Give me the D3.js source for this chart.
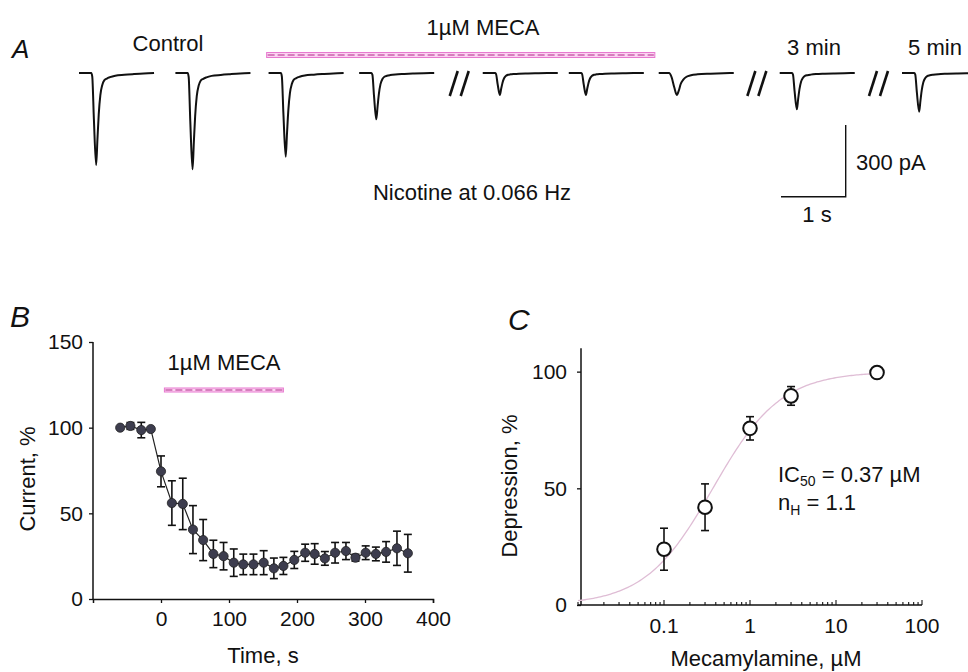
<!DOCTYPE html>
<html>
<head>
<meta charset="utf-8">
<script src="https://cdn.jsdelivr.net/npm/d3@7"></script>
<style>
  html, body { margin: 0; padding: 0; background: #fff; }
  svg { display: block; }
  text { font-family: "Liberation Sans", Arial, sans-serif; fill: #111; }
</style>
</head>
<body>
<svg id="chart" width="968" height="672"></svg>
<script>
// ---------------- DATA ----------------
// Panel A: sample current traces (montage time in s, amplitude in pA)
const traceStart = [0, 1.49, 2.93, 4.33, 6.24, 7.57, 8.96, 10.83, 12.72];
const traceAmp   = [385, 403, 350, 194, 92, 92, 92, 152, 162];
const traceKind  = ["fast", "fast", "fast", "fast", "fast", "fast", "slow", "fast", "fast"];
// normalised response templates (time from trace start in s, fraction of peak)
const fastShapeT = [0, 0.19, 0.205, 0.23, 0.265, 0.285, 0.305, 0.33, 0.36, 0.39, 0.43, 0.48, 0.56, 0.7, 0.85, 1.0, 1.16];
const fastShapeV = [0, 0, 0.04, 0.5, 1.0, 0.72, 0.45, 0.24, 0.13, 0.08, 0.06, 0.045, 0.03, 0.02, 0.012, 0.005, 0];
const slowShapeT = [0, 0.16, 0.2, 0.24, 0.28, 0.31, 0.34, 0.38, 0.43, 0.5, 0.6, 0.8, 1.0, 1.16];
const slowShapeV = [0, 0, 0.2, 0.65, 1.0, 0.8, 0.5, 0.3, 0.17, 0.1, 0.06, 0.03, 0.01, 0];
const breakTimes = [5.73, 10.33, 12.21];
const mecaA = [2.90, 8.90];
const scaleBarTime = 1;     // s
const scaleBarAmp = 300;    // pA

// Panel B: time course
const timeB = [-60, -45, -29, -15, 0, 16, 32, 47, 62, 77, 92, 107, 121, 136, 151, 166, 180, 196, 212, 226, 241, 256, 272, 286, 301, 316, 331, 347, 363];
const currentB = [100, 101, 98.6, 99.2, 74.5, 56, 55.5, 40.5, 34.4, 26.3, 25, 21.2, 20.2, 20.2, 21.2, 17.9, 19.3, 22.8, 27, 26.3, 23.7, 27, 28, 24.1, 27, 26.3, 27.5, 29.6, 26.7];
const errB = [0, 2, 4.5, 0, 9, 13, 15, 14, 12, 8, 8, 8, 6, 6, 7, 6, 5, 5, 5, 6, 4, 6, 5, 2, 4, 4, 6, 10, 11];
const mecaB = [5, 180];
const xTicksB = [0, 100, 200, 300, 400];
const yTicksB = [0, 50, 100, 150];

// Panel C: concentration-response
const concC = [0.1, 0.3, 1, 3, 30];
const depressionC = [23.9, 41.9, 75.7, 89.6, 99.6];
const errC = [9, 10, 5, 4, 0];
const IC50 = 0.37, nH = 1.1;
const xTicksC = [0.1, 1, 10, 100];
const xTickLabelsC = ["0.1", "1", "10", "100"];
const yTicksC = [0, 50, 100];

// ---------------- DRAW ----------------
const svg = d3.select("#chart");
const FS = 22;

// ===== Panel A =====
const gA = svg.append("g");
const xA = d3.scaleLinear().domain([0, 1]).range([79, 143.7]);
const yA = d3.scaleLinear().domain([0, 300]).range([73, 144.7]);

gA.append("text").attr("x", 12).attr("y", 58).attr("font-size", 26)
  .attr("font-style", "italic").text("A");
gA.append("text").attr("x", 168).attr("y", 51).attr("font-size", FS)
  .attr("text-anchor", "middle").text("Control");
gA.append("text").attr("x", 483).attr("y", 35).attr("font-size", FS)
  .attr("text-anchor", "middle").text("1\u00B5M MECA");
gA.append("text").attr("x", 814).attr("y", 55).attr("font-size", FS)
  .attr("text-anchor", "middle").text("3 min");
gA.append("text").attr("x", 935).attr("y", 55).attr("font-size", FS)
  .attr("text-anchor", "middle").text("5 min");
gA.append("text").attr("x", 472).attr("y", 200).attr("font-size", FS)
  .attr("text-anchor", "middle").text("Nicotine at 0.066 Hz");

// hatched drug bar helper
function drugBar(g, x0, x1, yc, h) {
  g.append("rect").attr("x", x0).attr("y", yc - h / 2).attr("width", x1 - x0).attr("height", h)
    .attr("fill", "#fbd3f1").attr("stroke", "#e879d0").attr("stroke-width", 1);
  g.append("line").attr("x1", x0 + 1).attr("x2", x1 - 1).attr("y1", yc).attr("y2", yc)
    .attr("stroke", "#b02a8a").attr("stroke-width", 1).attr("stroke-dasharray", "7,3");
}
drugBar(gA, xA(mecaA[0]), xA(mecaA[1]), 55, 5);

const lineA = d3.line().x(d => d[0]).y(d => d[1]).curve(d3.curveMonotoneX);
traceStart.forEach((t0, i) => {
  const T = traceKind[i] === "slow" ? slowShapeT : fastShapeT;
  const V = traceKind[i] === "slow" ? slowShapeV : fastShapeV;
  const pts = T.map((t, k) => [xA(t0 + t), yA(V[k] * traceAmp[i])]);
  gA.append("path").attr("d", lineA(pts)).attr("fill", "none")
    .attr("stroke", "#111").attr("stroke-width", 2);
});

breakTimes.forEach(bt => {
  [0, 11].forEach(off => {
    gA.append("line")
      .attr("x1", xA(bt) + off).attr("y1", 96)
      .attr("x2", xA(bt) + off + 8).attr("y2", 71)
      .attr("stroke", "#111").attr("stroke-width", 2.6);
  });
});

// scale bar
const sbX = 845.7, sbY = 196.7;
const sbW = xA(scaleBarTime) - xA(0), sbH = yA(scaleBarAmp) - yA(0);
gA.append("path").attr("d", `M${sbX - sbW},${sbY}H${sbX}V${sbY - sbH}`)
  .attr("fill", "none").attr("stroke", "#111").attr("stroke-width", 1.4);
gA.append("text").attr("x", 856).attr("y", 170).attr("font-size", FS).text("300 pA");
gA.append("text").attr("x", 817).attr("y", 222).attr("font-size", FS)
  .attr("text-anchor", "middle").text("1 s");

// ===== Panel B =====
const gB = svg.append("g");
const xB = d3.scaleLinear().domain([-100, 400]).range([93, 433]);
const yB = d3.scaleLinear().domain([0, 150]).range([599, 342]);

gB.append("text").attr("x", 10).attr("y", 327).attr("font-size", 30)
  .attr("font-style", "italic").text("B");

const axB = d3.axisBottom(xB).tickValues(xTicksB).tickSize(4).tickPadding(8).tickFormat(d3.format("d"));
const gxB = gB.append("g").attr("transform", `translate(0,${yB(0)})`).call(axB);
const ayB = d3.axisLeft(yB).tickValues(yTicksB).tickSize(4).tickPadding(6).tickFormat(d3.format("d"));
const gyB = gB.append("g").attr("transform", `translate(${xB(-100)},0)`).call(ayB);
[gxB, gyB].forEach(g => {
  g.select(".domain").attr("stroke", "#111").attr("stroke-width", 1.5);
  g.selectAll(".tick line").attr("stroke", "#111").attr("stroke-width", 1.3);
  g.selectAll(".tick text").attr("font-size", 21).attr("fill", "#111")
    .attr("font-family", '"Liberation Sans", Arial, sans-serif');
});
gyB.select(".domain").attr("d", `M0,${yB(150)}V${yB(0)}`);

gB.append("text").attr("transform", "translate(35,479) rotate(-90)").attr("font-size", FS)
  .attr("text-anchor", "middle").text("Current, %");
gB.append("text").attr("x", 263).attr("y", 663).attr("font-size", FS)
  .attr("text-anchor", "middle").text("Time, s");
gB.append("text").attr("x", 224).attr("y", 370).attr("font-size", FS)
  .attr("text-anchor", "middle").text("1\u00B5M MECA");
drugBar(gB, xB(mecaB[0]), xB(mecaB[1]), 390, 4);

const dataB = timeB.map((t, i) => ({ t, v: currentB[i], e: errB[i] }));
gB.append("path").datum(dataB)
  .attr("d", d3.line().x(d => xB(d.t)).y(d => yB(d.v)))
  .attr("fill", "none").attr("stroke", "#222").attr("stroke-width", 1.2);
const ebB = gB.selectAll(".eb").data(dataB.filter(d => d.e > 0)).join("g");
ebB.append("line").attr("x1", d => xB(d.t)).attr("x2", d => xB(d.t))
  .attr("y1", d => yB(d.v - d.e)).attr("y2", d => yB(d.v + d.e))
  .attr("stroke", "#111").attr("stroke-width", 1.6);
[-1, 1].forEach(s => {
  ebB.append("line").attr("x1", d => xB(d.t) - 4).attr("x2", d => xB(d.t) + 4)
    .attr("y1", d => yB(d.v + s * d.e)).attr("y2", d => yB(d.v + s * d.e))
    .attr("stroke", "#111").attr("stroke-width", 1.6);
});
gB.selectAll(".pt").data(dataB).join("circle")
  .attr("cx", d => xB(d.t)).attr("cy", d => yB(d.v)).attr("r", 4.6)
  .attr("fill", "#3d3d4e").attr("stroke", "#222").attr("stroke-width", 0.8);

// ===== Panel C =====
const gC = svg.append("g");
const xC = d3.scaleLog().domain([0.01, 100]).range([578, 922]);
const yC = d3.scaleLinear().domain([0, 110]).range([605, 348.3]);
const axisXC = 581;

gC.append("text").attr("x", 508).attr("y", 330).attr("font-size", 30)
  .attr("font-style", "italic").text("C");

// x axis line + log ticks (inward)
gC.append("line").attr("x1", xC(0.01)).attr("x2", xC(100)).attr("y1", yC(0)).attr("y2", yC(0))
  .attr("stroke", "#111").attr("stroke-width", 1.5);
const minorC = xC.ticks();
gC.selectAll(".mt").data(minorC).join("line")
  .attr("x1", d => xC(d)).attr("x2", d => xC(d))
  .attr("y1", yC(0)).attr("y2", d => xTicksC.includes(d) ? yC(0) - 5 : yC(0) - 3)
  .attr("stroke", "#111").attr("stroke-width", 1.1);
gC.selectAll(".xl").data(xTicksC).join("text")
  .attr("x", d => xC(d)).attr("y", 633).attr("font-size", 21).attr("text-anchor", "middle")
  .text((d, i) => xTickLabelsC[i]);

const ayC = d3.axisLeft(yC).tickValues(yTicksC).tickSize(4).tickPadding(10).tickFormat(d3.format("d"));
const gyC = gC.append("g").attr("transform", `translate(${axisXC},0)`).call(ayC);
gyC.select(".domain").attr("d", `M0,${yC(110)}V${yC(0)}`).attr("stroke", "#111").attr("stroke-width", 1.5);
gyC.selectAll(".tick line").attr("stroke", "#111").attr("stroke-width", 1.3);
gyC.selectAll(".tick text").attr("font-size", 21).attr("fill", "#111")
  .attr("font-family", '"Liberation Sans", Arial, sans-serif');

gC.append("text").attr("transform", "translate(517,486) rotate(-90)").attr("font-size", FS)
  .attr("text-anchor", "middle").text("Depression, %");
gC.append("text").attr("x", 766).attr("y", 666).attr("font-size", FS)
  .attr("text-anchor", "middle").text("Mecamylamine, \u00B5M");

// Hill fit from stated IC50 and nH
const fitX = d3.range(-2, Math.log10(30) + 0.001, 0.02).map(e => Math.pow(10, e));
gC.append("path").datum(fitX)
  .attr("d", d3.line().x(c => xC(c)).y(c => yC(100 * Math.pow(c, nH) / (Math.pow(c, nH) + Math.pow(IC50, nH)))))
  .attr("fill", "none").attr("stroke", "#dfbdd5").attr("stroke-width", 1.3);

const dataC = concC.map((c, i) => ({ c, v: depressionC[i], e: errC[i] }));
const ebC = gC.selectAll(".ebc").data(dataC.filter(d => d.e > 0)).join("g");
ebC.append("line").attr("x1", d => xC(d.c)).attr("x2", d => xC(d.c))
  .attr("y1", d => yC(d.v - d.e)).attr("y2", d => yC(d.v + d.e))
  .attr("stroke", "#111").attr("stroke-width", 1.6);
[-1, 1].forEach(s => {
  ebC.append("line").attr("x1", d => xC(d.c) - 4).attr("x2", d => xC(d.c) + 4)
    .attr("y1", d => yC(d.v + s * d.e)).attr("y2", d => yC(d.v + s * d.e))
    .attr("stroke", "#111").attr("stroke-width", 1.6);
});
gC.selectAll(".ptc").data(dataC).join("circle")
  .attr("cx", d => xC(d.c)).attr("cy", d => yC(d.v)).attr("r", 6.8)
  .attr("fill", "#fff").attr("stroke", "#111").attr("stroke-width", 2);

const t1 = gC.append("text").attr("x", 778).attr("y", 482).attr("font-size", FS);
t1.append("tspan").text("IC");
t1.append("tspan").attr("font-size", 14).attr("dy", 4).text("50");
t1.append("tspan").attr("dy", -4).text(" = 0.37 \u00B5M");
const t2 = gC.append("text").attr("x", 778).attr("y", 510).attr("font-size", FS);
t2.append("tspan").text("n");
t2.append("tspan").attr("font-size", 14).attr("dy", 5).text("H");
t2.append("tspan").attr("dy", -5).text(" = 1.1");
</script>
</body>
</html>
